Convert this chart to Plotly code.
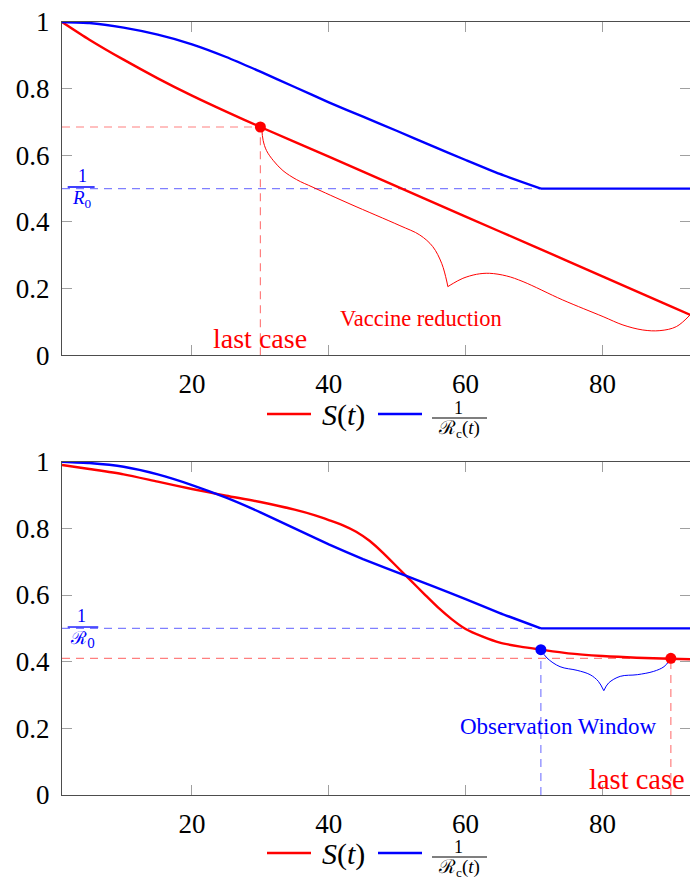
import plotly.graph_objects as go

# ---------------- data: top panel ----------------
t1_S = [1, 5, 10, 15, 20, 25, 30, 40, 50, 60, 70, 80, 90, 93]
S1 = [1.0, 0.947, 0.887, 0.831, 0.779, 0.731, 0.685, 0.596, 0.506, 0.416, 0.327, 0.237, 0.147, 0.12]
t1_R = [1, 5, 10, 15, 20, 25, 30, 35, 40, 45, 50, 55, 60, 65, 71, 93]
R1 = [1.0, 0.997, 0.983, 0.962, 0.933, 0.895, 0.851, 0.805, 0.759, 0.716, 0.673, 0.629, 0.586, 0.544, 0.5, 0.5]
last1 = (30, 0.685)
inv_R0 = 0.5
R_knee = 71
brace1_x = [30.2, 30.4, 30.9, 31.9, 33.3, 35.3, 37.7, 43.1, 50.4, 53.3, 55.2, 56.5, 57.2, 57.4,
            None, 57.4, 58.2, 59.6, 61.6, 63.5, 66.0, 68.4, 74.2, 80.1, 83.0, 85.9, 88.4, 90.8, 92.8]
brace1_y = [0.680, 0.645, 0.614, 0.584, 0.554, 0.527, 0.504, 0.454, 0.389, 0.361, 0.326, 0.276, 0.226, 0.206,
            None, 0.206, 0.216, 0.231, 0.243, 0.246, 0.238, 0.221, 0.166, 0.116, 0.091, 0.076, 0.074, 0.086, 0.121]

# ---------------- data: bottom panel ----------------
t2_S = [1, 5, 10, 15, 20, 25, 30, 35, 38, 40, 42, 44, 46, 48, 50, 52, 54, 56, 58, 60, 62.5, 65, 68, 71,
        75, 80, 85, 90, 93]
S2 = [0.99, 0.978, 0.962, 0.94, 0.918, 0.898, 0.879, 0.856, 0.839, 0.825, 0.810, 0.790, 0.762, 0.725, 0.684,
      0.643, 0.602, 0.562, 0.527, 0.498, 0.475, 0.457, 0.445, 0.436, 0.425, 0.417, 0.412, 0.409, 0.407]
t2_R = [1, 5, 10, 15, 20, 25, 30, 35, 40, 45, 51.6, 55, 60, 65, 71, 93]
R2 = [1.0, 0.996, 0.985, 0.962, 0.93, 0.892, 0.848, 0.8, 0.752, 0.708, 0.655, 0.628, 0.588, 0.546, 0.5, 0.5]
obs_start = (71, 0.436)
last2 = (90, 0.41)
brace2_x = [71.0, 71.9, 73.8, 76.3, 78.2, 79.4, 80.2, None, 80.2, 80.9, 82.6, 85.1, 87.5, 89.0, 89.9]
brace2_y = [0.436, 0.411, 0.385, 0.374, 0.361, 0.341, 0.313, None, 0.313, 0.336, 0.356, 0.361, 0.371, 0.385, 0.406]

x_ticks = [20, 40, 60, 80]
y_ticks = [0, 0.2, 0.4, 0.6, 0.8, 1]
y_ticktext = ["0", "0.2", "0.4", "0.6", "0.8", "1"]

RED = "#ff0000"
BLUE = "#0000ff"
LRED = "rgba(255,0,0,0.5)"
LBLUE = "rgba(0,0,255,0.5)"
SERIF = "Liberation Serif"

fig = go.Figure()


def add_panel(xa, ya, tS, S, tR, R):
    fig.add_trace(go.Scatter(x=tS, y=S, mode="lines", line=dict(color=RED, width=2.4, shape="spline", smoothing=0.7),
                             xaxis=xa, yaxis=ya, showlegend=False))
    k = tR.index(R_knee)
    # curved part up to the knee, then the flat part
    fig.add_trace(go.Scatter(x=tR[:k + 1], y=R[:k + 1], mode="lines",
                             line=dict(color=BLUE, width=2.4, shape="spline", smoothing=0.5),
                             xaxis=xa, yaxis=ya, showlegend=False))
    fig.add_trace(go.Scatter(x=tR[k:], y=R[k:], mode="lines", line=dict(color=BLUE, width=2.4),
                             xaxis=xa, yaxis=ya, showlegend=False))


def dashed(xa, ya, xs, ys, color):
    fig.add_trace(go.Scatter(x=xs, y=ys, mode="lines", line=dict(color=color, width=1.2, dash="8px,6px"),
                             xaxis=xa, yaxis=ya, showlegend=False))


# top panel guides
dashed("x", "y", [1, last1[0]], [last1[1], last1[1]], LRED)
dashed("x", "y", [last1[0], last1[0]], [0, last1[1]], LRED)
dashed("x", "y", [1, R_knee], [inv_R0, inv_R0], LBLUE)
# bottom panel guides
dashed("x2", "y2", [1, last2[0]], [last2[1], last2[1]], LRED)
dashed("x2", "y2", [last2[0], last2[0]], [0, last2[1]], LRED)
dashed("x2", "y2", [1, R_knee], [inv_R0, inv_R0], LBLUE)
dashed("x2", "y2", [obs_start[0], obs_start[0]], [0, obs_start[1]], LBLUE)

add_panel("x", "y", t1_S, S1, t1_R, R1)
add_panel("x2", "y2", t2_S, S2, t2_R, R2)

# braces
fig.add_trace(go.Scatter(x=brace1_x, y=brace1_y, mode="lines", line=dict(color=RED, width=1, shape="spline"),
                         xaxis="x", yaxis="y", showlegend=False, connectgaps=False))
fig.add_trace(go.Scatter(x=brace2_x, y=brace2_y, mode="lines", line=dict(color=BLUE, width=1, shape="spline"),
                         xaxis="x2", yaxis="y2", showlegend=False, connectgaps=False))

# markers
fig.add_trace(go.Scatter(x=[last1[0]], y=[last1[1]], mode="markers", marker=dict(color=RED, size=11),
                         xaxis="x", yaxis="y", showlegend=False))
fig.add_trace(go.Scatter(x=[obs_start[0]], y=[obs_start[1]], mode="markers", marker=dict(color=BLUE, size=11),
                         xaxis="x2", yaxis="y2", showlegend=False))
fig.add_trace(go.Scatter(x=[last2[0]], y=[last2[1]], mode="markers", marker=dict(color=RED, size=11),
                         xaxis="x2", yaxis="y2", showlegend=False))

axis_common = dict(showline=True, linecolor="#4d4d4d", linewidth=1.3, mirror="ticks", ticks="inside",
                   ticklen=10, tickcolor="#a0a0a0", tickwidth=1, showgrid=False, zeroline=False,
                   tickfont=dict(family=SERIF, size=27, color="black"))

L, T, B, W, H = 62, 22, 84, 690, 879
PH = H - T - B


def px(x):
    return (x - L) / (W - L)


def py(y):
    return (H - B - y) / PH


fig.update_layout(
    width=W, height=H, plot_bgcolor="white", paper_bgcolor="white",
    margin=dict(l=L, r=0, t=T, b=B),
    xaxis=dict(axis_common, range=[1, 92.8], tickvals=x_ticks, domain=[0, 1], anchor="y", ticklabelstandoff=4),
    yaxis=dict(axis_common, range=[0, 1], tickvals=y_ticks, ticktext=y_ticktext, domain=[py(355.3), 1],
               anchor="x", ticklabelstandoff=6),
    xaxis2=dict(axis_common, range=[1, 92.8], tickvals=x_ticks, domain=[0, 1], anchor="y2", ticklabelstandoff=4),
    yaxis2=dict(axis_common, range=[0, 1], tickvals=y_ticks, ticktext=y_ticktext, domain=[0, py(461.7)],
                anchor="x2", ticklabelstandoff=6),
)

ann = []
shapes = []


def text(x, y, s, size, color, xref, yref, font=SERIF):
    ann.append(dict(x=x, y=y, xref=xref, yref=yref, text=s, showarrow=False, xanchor="center", yanchor="middle",
                    borderpad=0, font=dict(family=font, size=size, color=color)))


# in-plot labels
text(29.9, 0.05, "last case", 28, RED, "x", "y")
text(53.5, 0.11, "Vaccine reduction", 22.5, RED, "x", "y")
text(73.5, 0.207, "Observation Window", 23, BLUE, "x2", "y2")
text(85.0, 0.047, "last case", 28.5, RED, "x2", "y2")

# 1/R0 fractions
text(3.95, 0.538, "1", 18, BLUE, "x", "y")
shapes.append(dict(type="line", xref="x", yref="y", x0=1.83, x1=5.77, y0=0.505, y1=0.505,
                   line=dict(color=BLUE, width=1.3)))
text(3.87, 0.47, "<i>R</i><sub>0</sub>", 19, BLUE, "x", "y")
text(3.9, 0.538, "1", 18, BLUE, "x2", "y2")
shapes.append(dict(type="line", xref="x2", yref="y2", x0=1.83, x1=6.3, y0=0.504, y1=0.504,
                   line=dict(color=BLUE, width=1.3)))
text(4.0, 0.467, "ℛ<sub>0</sub>", 18, BLUE, "x2", "y2", font="DejaVu Serif")

# custom legends
for dy in (0, 439):
    shapes.append(dict(type="line", xref="paper", yref="paper", x0=px(267), x1=px(311), y0=py(414 + dy),
                       y1=py(414 + dy), line=dict(color=RED, width=2.4)))
    shapes.append(dict(type="line", xref="paper", yref="paper", x0=px(378), x1=px(422), y0=py(414 + dy),
                       y1=py(414 + dy), line=dict(color=BLUE, width=2.4)))
    text(px(343), py(415 + dy), "<i>S</i>(<i>t</i>)", 30, "black", "paper", "paper")
    text(px(458.5), py(408 + dy), "1", 18, "black", "paper", "paper")
    shapes.append(dict(type="line", xref="paper", yref="paper", x0=px(432), x1=px(487), y0=py(418 + dy),
                       y1=py(418 + dy), line=dict(color="black", width=1.2)))
    text(px(459), py(429 + dy), "ℛ<sub>c</sub>(<i>t</i>)", 19, "black", "paper", "paper")

fig.update_layout(annotations=ann, shapes=shapes)

fig.write_html("out.html")
